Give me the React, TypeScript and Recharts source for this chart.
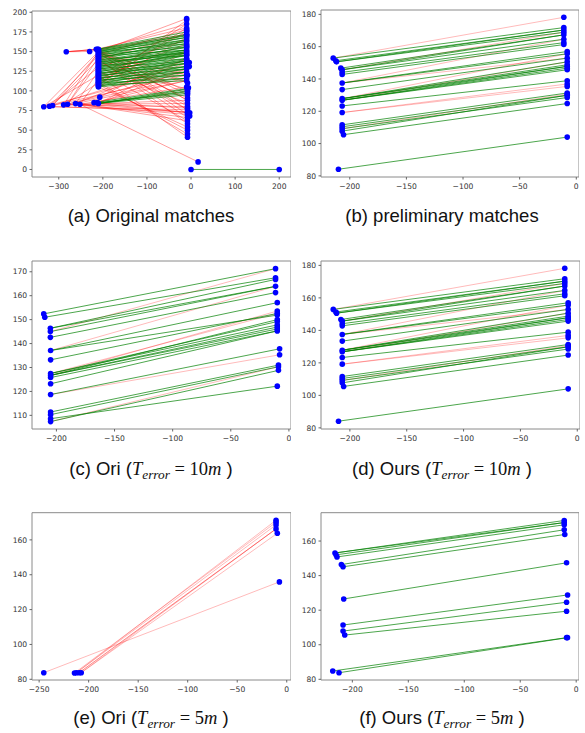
import React from 'react';
import { ComposedChart, Line, Scatter, XAxis, YAxis, ReferenceArea } from 'recharts';

type Seg = [number, number, number, number];
type Pt = [number, number];

// ---------- (a) Original matches ----------
const aGreen: Seg[] = [
  [-210,153,-10,172],[-212,153,-10,175],[-210,152,-10,170],[-210,151,-10,168],[-210,150,-10,165],[-210,150,-10,171],
  [-210,149,-10,160],[-210,148,-10,168],[-210,147,-10,163],[-210,146,-10,156],[-210,145,-10,165],[-210,144,-10,152],
  [-210,143,-10,160],[-210,142,-10,163],[-210,141,-10,158],[-210,140,-10,148],[-210,139,-10,155],[-210,138,-10,152],
  [-210,137,-10,145],[-210,136,-10,156],[-210,135,-10,150],[-210,134,-10,148],[-210,133,-10,152],[-210,132,-10,141],
  [-210,131,-10,150],[-210,130,-10,146],[-210,129,-10,145],[-210,128,-10,138],[-210,127,-10,148],[-210,126,-10,141],
  [-210,125,-10,135],[-210,124,-10,145],[-210,123,-10,131],[-210,122,-10,140],[-210,121,-10,138],[-210,120,-10,128],
  [-210,119,-10,135],[-210,118,-10,138],[-210,117,-10,124],[-210,116,-10,131],[-210,115,-10,135],[-210,114,-10,120],
  [-210,113,-10,128],[-210,112,-10,131],[-210,111,-10,124],[-210,110,-10,116],[-210,109,-10,128],[-210,108,-10,120],
  [-210,107,-10,113],[-210,106,-10,124],[-210,105,-10,116],
  [-210,84,-8,95],[-210,84,-8,99],[-210,84,-8,102],[-212,85,-8,97],[-210,84,-8,100],[-220,85,-8,103],
  [0,0,200,0],
];
const aRed: Seg[] = [
  [-283,149.7,-215,152.8],[-283,149.7,-215,152.8],[-283,149.7,-215,152.8],[-283,149.7,-230,150.1],
  [-230,150.1,-10,172],[-215,152.8,-10,180],
  [-334,79.7,-210,150],[-321,80.5,-210,145],[-314,81.3,-210,140],[-289,82.2,-210,150],[-280,83,-210,135],
  [-262,83.8,-210,125],[-252,83,-210,115],[-321,80.5,-210,130],[-334,79.7,-210,120],[-289,82.2,-210,110],
  [-314,81.3,-210,148],[-280,83,-210,143],
  [-334,79.7,-10,128],[-321,80.5,-10,120],[-314,81.3,-10,135],[-289,82.2,-10,116],[-280,83,-10,124],
  [-262,83.8,-10,113],[-252,83,-10,105],[-262,83.8,-10,141],
  [-334,79.7,-8,76],[-321,80.5,-8,73],[-289,82.2,-8,80],[-280,83,-8,70],[-262,83.8,-8,66],[-252,83,-8,84],
  [-252,83,-8,62],[-262,83.8,-8,73],[-289,82.2,-8,88],[-220,85,-8,78],[-210,84,-8,72],
  [-252,83,16,9.6],
  [-210,150,-8,88],[-210,148,-8,80],[-212,152,-8,99],[-210,145,-8,70],[-210,142,-8,91],[-210,138,-8,76],
  [-210,135,-8,102],[-212,152,-8,110],[-210,146,-8,120],[-210,140,-8,66],[-210,130,-8,84],[-210,150,-8,88],
  [-210,148,-8,76],[-210,151,-8,95],
  [-210,105,-8,54],[-210,108,-8,50],[-210,111,-8,45],[-210,120,-8,41],[-210,125,-8,62],[-210,140,-8,58],
  [-210,107,-10,190],[-210,108,-10,180],[-210,110,-10,176],[-210,112,-10,185],[-210,105,-10,168],
  [-210,115,-10,160],[-207,92,-10,150],[-210,84,-10,128],[-210,84,-10,141],[-220,85,-10,113],
  [-210,150,-10,192],[-212,152,-10,185],[-210,146,-10,178],[-210,130,-10,165],[-210,120,-10,150],[-210,140,-10,172],
];
const aExtraPts: Pt[] = [[-4,136],[-4,131],[-3,68],[-3,72],[-6,104],[-8,58]];

// ---------- (b) preliminary matches / (d) Ours 10m ----------
const bGreen: Seg[] = [
  [-214.6,152.9,-11,171.8],[-212.3,151.3,-11,170.3],[-211.7,150.6,-11,168.9],[-211.7,150.6,-11,170.3],
  [-207.9,146.7,-11,167.3],[-206.7,145.7,-11,164.6],[-206.7,145.7,-11,167.3],[-206.7,144.1,-11,162.5],
  [-206.7,142.8,-11,161.3],[-206.7,137.5,-8,157.0],[-206.7,137.5,-8,155.6],[-206.7,133.4,-8,152.9],
  [-206.7,127.8,-8,150.6],[-206.7,127.8,-8,148.8],[-206.7,127.8,-8,147.8],[-206.7,126.8,-8,146.7],
  [-206.7,126.8,-8,145.7],[-206.7,126.8,-8,147.8],[-206.7,123.3,-8,138.9],[-206.7,111.6,-8,131.3],
  [-206.7,110.4,-8,129.9],[-206.7,109.2,-8,128.5],[-206.7,107.7,-8,129.9],[-205.5,105.5,-8,124.8],
  [-210,84.1,-8,104.0],
];
const bRed: Seg[] = [
  [-214.6,152.9,-11,178.2],[-206.7,145.7,-11,168.9],[-206.7,137.5,-11,164.6],[-206.7,137.5,-8,152.9],
  [-206.7,127.8,-8,155.6],[-206.7,126.8,-8,150.6],[-206.7,119.2,-8,135.4],[-206.7,119.2,-8,136.9],
  [-206.7,109.2,-8,130.6],
];

// ---------- (c) Ori 10m ----------
const cGreen: Seg[] = [
  [-210.9,152.4,-11.5,171.3],[-210,151,-11.5,167.5],[-205.2,146.4,-11.5,166.8],[-205.2,146.4,-11.5,163.9],
  [-205.2,145,-11.5,163.9],[-205.2,142.6,-11.5,161.3],[-205,137.1,-10,157.1],[-205,137.1,-10,151.9],
  [-205,133.2,-10,152.6],[-205,127.5,-10,147.8],[-205,127.5,-10,149.2],[-205,126.7,-10,150],
  [-205,126.7,-10,146.9],[-205,126.7,-10,146.1],[-205,125.8,-10,145.3],[-205,123.2,-10,145.3],
  [-205,118.7,-8,137.8],[-205,111.4,-9,131],[-205,110.3,-9,130.3],[-205,107.4,-9,128.8],
  [-205,108.6,-10,122.2],
];
const cRed: Seg[] = [
  [-205.2,145,-11.5,171.3],[-205,137.1,-11.5,163.9],[-205,126.7,-10,153.6],[-205,127.5,-10,152.6],
  [-205,118.7,-8,135.3],[-205,107.4,-9,130.3],
];

// ---------- (e) Ori 5m ----------
const eGreen: Seg[] = [];
const eRed: Seg[] = [
  [-214.3,83.6,-10.8,170.1],[-212.3,83.8,-10.8,171.3],[-212.3,83.8,-10.8,168.6],[-209.6,83.8,-10.8,166.3],
  [-209.6,83.8,-10.8,166.3],[-207.5,83.8,-10.8,166.3],[-207.5,83.8,-9.5,163.8],[-245.3,83.8,-7.4,135.9],
];

// ---------- (f) Ours 5m ----------
const fGreen: Seg[] = [
  [-215.5,153.1,-10.7,171.9],[-214.6,152,-10.7,170.7],[-213.7,150.8,-10.7,169.4],[-215.5,153.1,-10.7,170.7],
  [-209.8,146.4,-10.7,166.5],[-208.3,145.1,-10.2,163.8],[-207.7,126.5,-8.6,147.4],[-208.3,111.4,-7.7,128.8],
  [-208.3,107.9,-8.6,124.6],[-206.8,105.6,-8.6,119.4],[-217.5,84.8,-8.6,104.1],[-211.9,83.8,-7.8,104.1],
];
const fRed: Seg[] = [];

// ---------- axes ----------
const aXTicks = [-300, -200, -100, 0, 100, 200];
const aYTicks = [0, 25, 50, 75, 100, 125, 150, 175, 200];
const bXTicks = [-200, -150, -100, -50, 0];
const bYTicks = [80, 100, 120, 140, 160, 180];
const cYTicks = [110, 120, 130, 140, 150, 160, 170];
const eXTicks = [-250, -200, -150, -100, -50, 0];
const eYTicks = [80, 100, 120, 140, 160];

const captions = [
  { tag: '(a)', text: 'Original matches', m: '' },
  { tag: '(b)', text: 'preliminary matches', m: '' },
  { tag: '(c)', text: 'Ori (', m: '10' },
  { tag: '(d)', text: 'Ours (', m: '10' },
  { tag: '(e)', text: 'Ori (', m: '5' },
  { tag: '(f)', text: 'Ours (', m: '5' },
];

const fmt = (v: number) => String(v).replace('-', '\u2212');

function endpoints(lists: Seg[][], extra: Pt[]) {
  const seen = new Set<string>();
  const out: { x: number; y: number }[] = [];
  const add = (x: number, y: number) => {
    const k = x + ',' + y;
    if (!seen.has(k)) { seen.add(k); out.push({ x, y }); }
  };
  lists.forEach((l) => l.forEach((s) => { add(s[0], s[1]); add(s[2], s[3]); }));
  extra.forEach((p) => add(p[0], p[1]));
  return out;
}

const Dot = (props: any) => <circle cx={props.cx} cy={props.cy} r={2.8} fill="#0000ff" />;

interface PanelProps {
  left: number; top: number; width: number; height: number; mt: number; yw: number;
  xDomain: [number, number]; yDomain: [number, number]; xTicks: number[]; yTicks: number[];
  green: Seg[]; red: Seg[]; extra?: Pt[]; redOpacity?: number;
}

const tickStyle = { fill: '#333', fontSize: 7.6, fontFamily: '"DejaVu Sans", sans-serif' };

function Panel(p: PanelProps) {
  const pts = endpoints([p.green, p.red], p.extra || []);
  return (
    <div style={{ position: 'absolute', left: p.left, top: p.top }}>
      <ComposedChart width={p.width} height={p.height} margin={{ top: p.mt, right: 0, left: 0, bottom: 0 }}>
        <XAxis type="number" dataKey="x" domain={p.xDomain} allowDataOverflow ticks={p.xTicks} interval={0}
          height={18} tickSize={2.5} tickMargin={4.5} tick={tickStyle} tickFormatter={fmt}
          axisLine={false} tickLine={{ stroke: '#666' }} />
        <YAxis type="number" domain={p.yDomain} allowDataOverflow ticks={p.yTicks} interval={0}
          width={p.yw} tickSize={2.5} tickMargin={2.3} tick={tickStyle} tickFormatter={fmt}
          axisLine={false} tickLine={{ stroke: '#666' }} />
        <ReferenceArea x1={p.xDomain[0]} x2={p.xDomain[1]} y1={p.yDomain[0]} y2={p.yDomain[1]}
          fill="none" stroke="#8a8a8a" strokeWidth={1} fillOpacity={0} ifOverflow="visible" />
        {p.red.map((s, i) => (
          <Line key={'r' + i} data={[{ x: s[0], y: s[1] }, { x: s[2], y: s[3] }]} dataKey="y" type="linear"
            stroke="#ff0000" strokeOpacity={p.redOpacity ?? 0.27} strokeWidth={1} dot={false} activeDot={false}
            legendType="none" isAnimationActive={false} />
        ))}
        {p.green.map((s, i) => (
          <Line key={'g' + i} data={[{ x: s[0], y: s[1] }, { x: s[2], y: s[3] }]} dataKey="y" type="linear"
            stroke="#008000" strokeOpacity={0.7} strokeWidth={1} dot={false} activeDot={false}
            legendType="none" isAnimationActive={false} />
        ))}
        <Scatter data={pts} dataKey="y" shape={Dot} isAnimationActive={false} />
      </ComposedChart>
    </div>
  );
}

function Caption({ left, top, c }: { left: number; top: number; c: typeof captions[number] }) {
  const serif = '"Liberation Serif", "DejaVu Serif", serif';
  return (
    <div style={{ position: 'absolute', left, top, width: 290, textAlign: 'center', whiteSpace: 'nowrap',
      fontFamily: '"Liberation Sans", Arial, sans-serif', fontSize: 18.5, lineHeight: '22px', color: '#111' }}>
      {c.tag} {c.text}
      {c.m && (
        <>
          <span style={{ fontFamily: serif, fontStyle: 'italic' }}>T</span>
          <span style={{ fontFamily: serif, fontStyle: 'italic', fontSize: '0.72em', position: 'relative', top: '0.3em' }}>error</span>
          <span style={{ fontFamily: serif }}> = {c.m}</span>
          <span style={{ fontFamily: serif, fontStyle: 'italic' }}>m</span> )
        </>
      )}
    </div>
  );
}

export default function App() {
  return (
    <div style={{ position: 'absolute', left: 0, top: 0, width: 585, height: 733, background: '#fff', overflow: 'hidden' }}>
      <Panel left={0} top={0} width={291} height={195} mt={11} yw={32}
        xDomain={[-360.7, 226.7]} yDomain={[-9.6, 201.6]} xTicks={aXTicks} yTicks={aYTicks}
        green={aGreen} red={aRed} extra={aExtraPts} redOpacity={0.38} />
      <Panel left={288} top={0} width={291} height={195} mt={10} yw={33}
        xDomain={[-225.4, 2.4]} yDomain={[79.3, 182.7]} xTicks={bXTicks} yTicks={bYTicks}
        green={bGreen} red={bRed} />
      <Panel left={0} top={250} width={291} height={197} mt={11} yw={32}
        xDomain={[-221, 1.8]} yDomain={[104.3, 174.5]} xTicks={bXTicks} yTicks={cYTicks}
        green={cGreen} red={cRed} />
      <Panel left={288} top={250} width={292} height={197} mt={11} yw={33}
        xDomain={[-225.4, 2.4]} yDomain={[79.3, 182.7]} xTicks={bXTicks} yTicks={bYTicks}
        green={bGreen} red={bRed} />
      <Panel left={0} top={500} width={291} height={198} mt={12.7} yw={32}
        xDomain={[-257.2, 4.3]} yDomain={[79.6, 175.6]} xTicks={eXTicks} yTicks={eYTicks}
        green={eGreen} red={eRed} />
      <Panel left={288} top={500} width={291} height={198} mt={12.7} yw={33}
        xDomain={[-228, 2.5]} yDomain={[79.6, 176.4]} xTicks={bXTicks} yTicks={eYTicks}
        green={fGreen} red={fRed} />
      <Caption left={6} top={205} c={captions[0]} />
      <Caption left={297} top={205} c={captions[1]} />
      <Caption left={6} top={458} c={captions[2]} />
      <Caption left={297} top={458} c={captions[3]} />
      <Caption left={6} top={707} c={captions[4]} />
      <Caption left={297} top={707} c={captions[5]} />
    </div>
  );
}
